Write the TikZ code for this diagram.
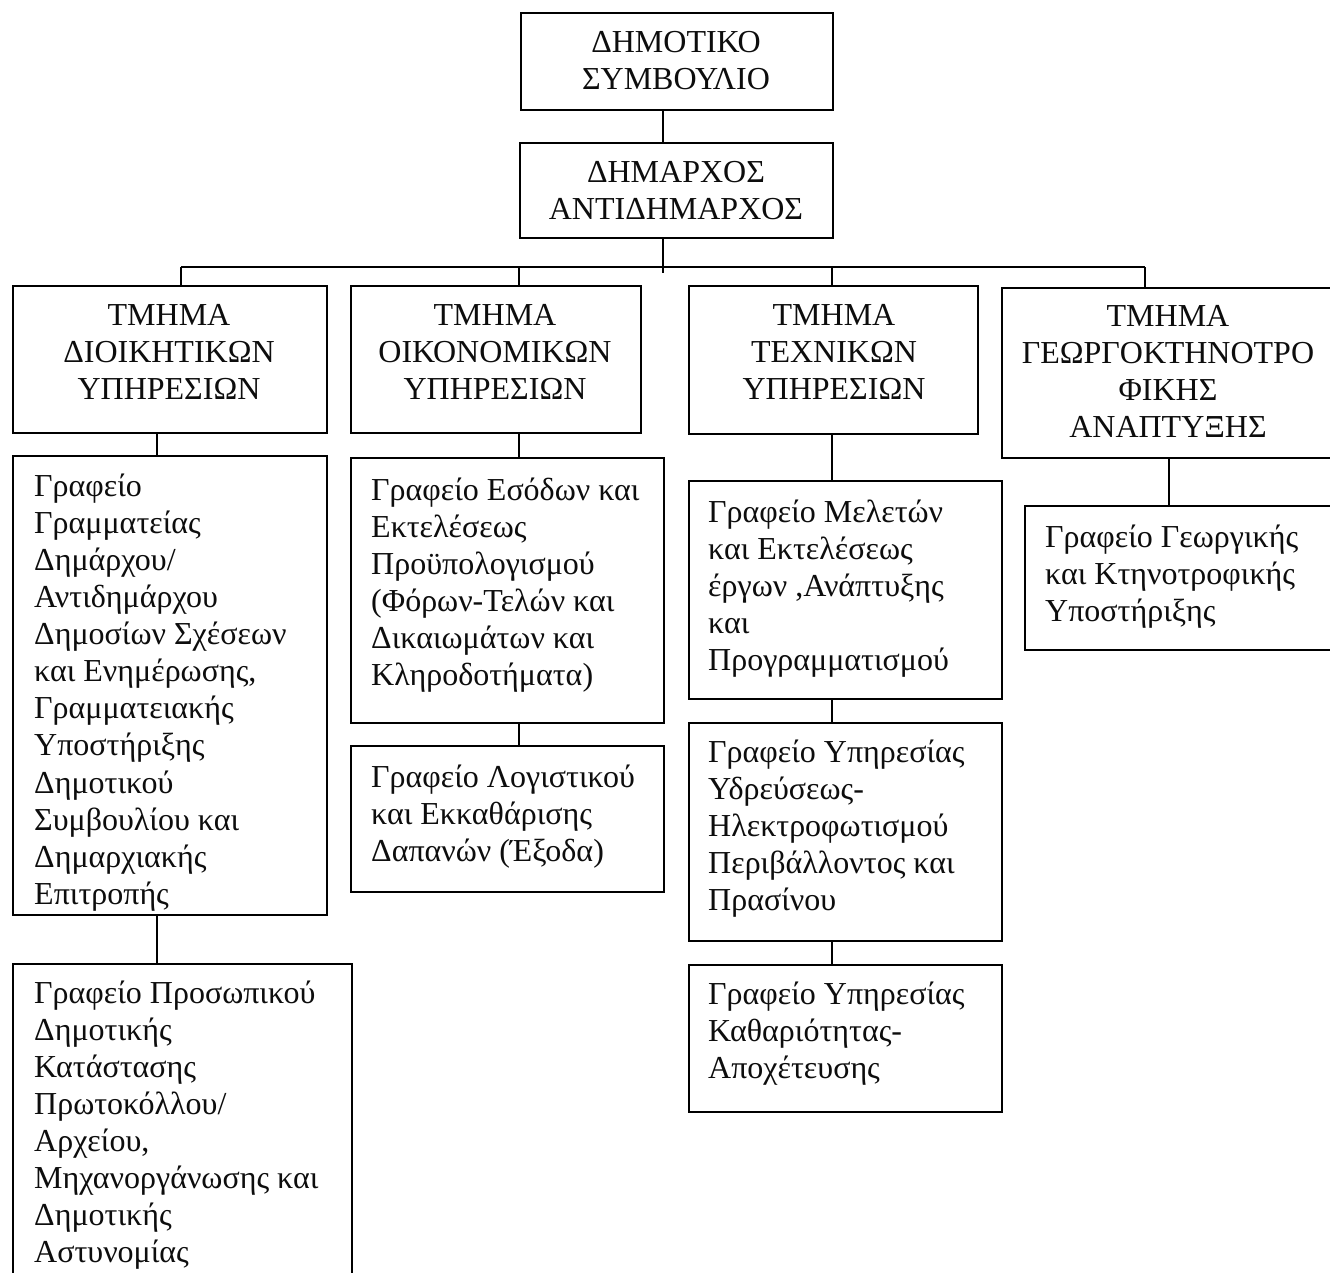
\documentclass[tikz,border=0pt]{standalone}
\usepackage{fontspec}
\setmainfont{Liberation Serif}
\begin{document}
\begin{tikzpicture}[x=1pt,y=-1pt,
  box/.style={draw=black, line width=2.3pt, rectangle, inner sep=0pt, anchor=north west},
  ctext/.style={align=center, anchor=north, inner sep=0pt, text=black!95, font=\fontsize{32}{37.1}\selectfont},
  ltext/.style={align=left, anchor=north west, inner sep=0pt, text=black!95, font=\fontsize{32}{37.1}\selectfont},
  link/.style={line width=2pt}]
\useasboundingbox (0,0) rectangle (1330,1272);
\fill[white] (0,0) rectangle (1330,1272);
\clip (0,0) rectangle (1330,1272);
\newcommand{\fl}{\rule{0pt}{28pt}}
% boxes
\node[box, minimum width=312pt, minimum height=97pt] (DS) at (520,12) {};
\node[box, minimum width=313pt, minimum height=95pt] (DA) at (519,142) {};
\node[box, minimum width=314pt, minimum height=147pt] (T1) at (12,285) {};
\node[box, minimum width=290pt, minimum height=147pt] (T2) at (350,285) {};
\node[box, minimum width=289pt, minimum height=148pt] (T3) at (688,285) {};
\node[box, minimum width=344pt, minimum height=170pt] (T4) at (1001,287) {};
\node[box, minimum width=314pt, minimum height=459pt] (G1) at (12,455) {};
\node[box, minimum width=339pt, minimum height=330pt] (G2) at (12,963) {};
\node[box, minimum width=313pt, minimum height=265pt] (E1) at (350,457) {};
\node[box, minimum width=313pt, minimum height=146pt] (E2) at (350,745) {};
\node[box, minimum width=313pt, minimum height=218pt] (M1) at (688,480) {};
\node[box, minimum width=313pt, minimum height=218pt] (M2) at (688,722) {};
\node[box, minimum width=313pt, minimum height=147pt] (M3) at (688,964) {};
\node[box, minimum width=321pt, minimum height=144pt] (R1) at (1024,505) {};
% titles
\node[ctext] (tDS) at (676,24) {\fl ΔΗΜΟΤΙΚΟ\\ΣΥΜΒΟΥΛΙΟ};
\node[ctext] (tDA) at (676,154) {\fl ΔΗΜΑΡΧΟΣ\\ΑΝΤΙΔΗΜΑΡΧΟΣ};
\node[ctext] (tT1) at (169,297) {\fl ΤΜΗΜΑ\\ΔΙΟΙΚΗΤΙΚΩΝ\\ΥΠΗΡΕΣΙΩΝ};
\node[ctext] (tT2) at (495,297) {\fl ΤΜΗΜΑ\\ΟΙΚΟΝΟΜΙΚΩΝ\\ΥΠΗΡΕΣΙΩΝ};
\node[ctext] (tT3) at (834,297) {\fl ΤΜΗΜΑ\\ΤΕΧΝΙΚΩΝ\\ΥΠΗΡΕΣΙΩΝ};
\node[ctext] (tT4) at (1168,298) {\fl ΤΜΗΜΑ\\ΓΕΩΡΓΟΚΤΗΝΟΤΡΟ\\ΦΙΚΗΣ\\ΑΝΑΠΤΥΞΗΣ};
% office texts
\begin{scope}
\clip (G1.north west) rectangle (G1.south east);
\node[ltext] (tG1) at (34,468) {\fl Γραφείο\\Γραμματείας\\Δημάρχου/\\Αντιδημάρχου\\Δημοσίων Σχέσεων\\και Ενημέρωσης,\\Γραμματειακής\\Υποστήριξης\\Δημοτικού\\Συμβουλίου και\\Δημαρχιακής\\Επιτροπής};
\end{scope}
\node[ltext] (tG2) at (34,975) {\fl Γραφείο Προσωπικού\\Δημοτικής\\Κατάστασης\\Πρωτοκόλλου/\\Αρχείου,\\Μηχανοργάνωσης και\\Δημοτικής\\Αστυνομίας};
\node[ltext] (tE1) at (371,472) {\fl Γραφείο Εσόδων και\\Εκτελέσεως\\Προϋπολογισμού\\(Φόρων-Τελών και\\Δικαιωμάτων και\\Κληροδοτήματα)};
\node[ltext] (tE2) at (371,759) {\fl Γραφείο Λογιστικού\\και Εκκαθάρισης\\Δαπανών (Έξοδα)};
\node[ltext] (tM1) at (708,494) {\fl Γραφείο Μελετών\\και Εκτελέσεως\\έργων ,Ανάπτυξης\\και\\Προγραμματισμού};
\node[ltext] (tM2) at (708,734) {\fl Γραφείο Υπηρεσίας\\Υδρεύσεως-\\Ηλεκτροφωτισμού\\Περιβάλλοντος και\\Πρασίνου};
\node[ltext] (tM3) at (708,976) {\fl Γραφείο Υπηρεσίας\\Καθαριότητας-\\Αποχέτευσης};
\node[ltext] (tR1) at (1045,519) {\fl Γραφείο Γεωργικής\\και Κτηνοτροφικής\\Υποστήριξης};
% connector coordinates
\coordinate (cx) at (663,267);
\coordinate (cend) at (663,273);
\coordinate (b1) at (181,267);
\coordinate (b2) at (519,267);
\coordinate (b3) at (832,267);
\coordinate (b4) at (1145,267);
\coordinate (g) at (157,0);
\coordinate (r) at (1169,0);
% connectors
\draw[link] (cx |- DS.south) -- (cx |- DA.north);
\draw[link] (cx |- DA.south) -- (cend);
\draw[link] (b1) -- (b4);
\draw[link] (b1) -- (b1 |- T1.north);
\draw[link] (b2) -- (b2 |- T2.north);
\draw[link] (b3) -- (b3 |- T3.north);
\draw[link] (b4) -- (b4 |- T4.north);
\draw[link] (g |- T1.south) -- (g |- G1.north);
\draw[link] (g |- G1.south) -- (g |- G2.north);
\draw[link] (b2 |- T2.south) -- (b2 |- E1.north);
\draw[link] (b2 |- E1.south) -- (b2 |- E2.north);
\draw[link] (b3 |- T3.south) -- (b3 |- M1.north);
\draw[link] (b3 |- M1.south) -- (b3 |- M2.north);
\draw[link] (b3 |- M2.south) -- (b3 |- M3.north);
\draw[link] (r |- T4.south) -- (r |- R1.north);
\end{tikzpicture}
\end{document}
